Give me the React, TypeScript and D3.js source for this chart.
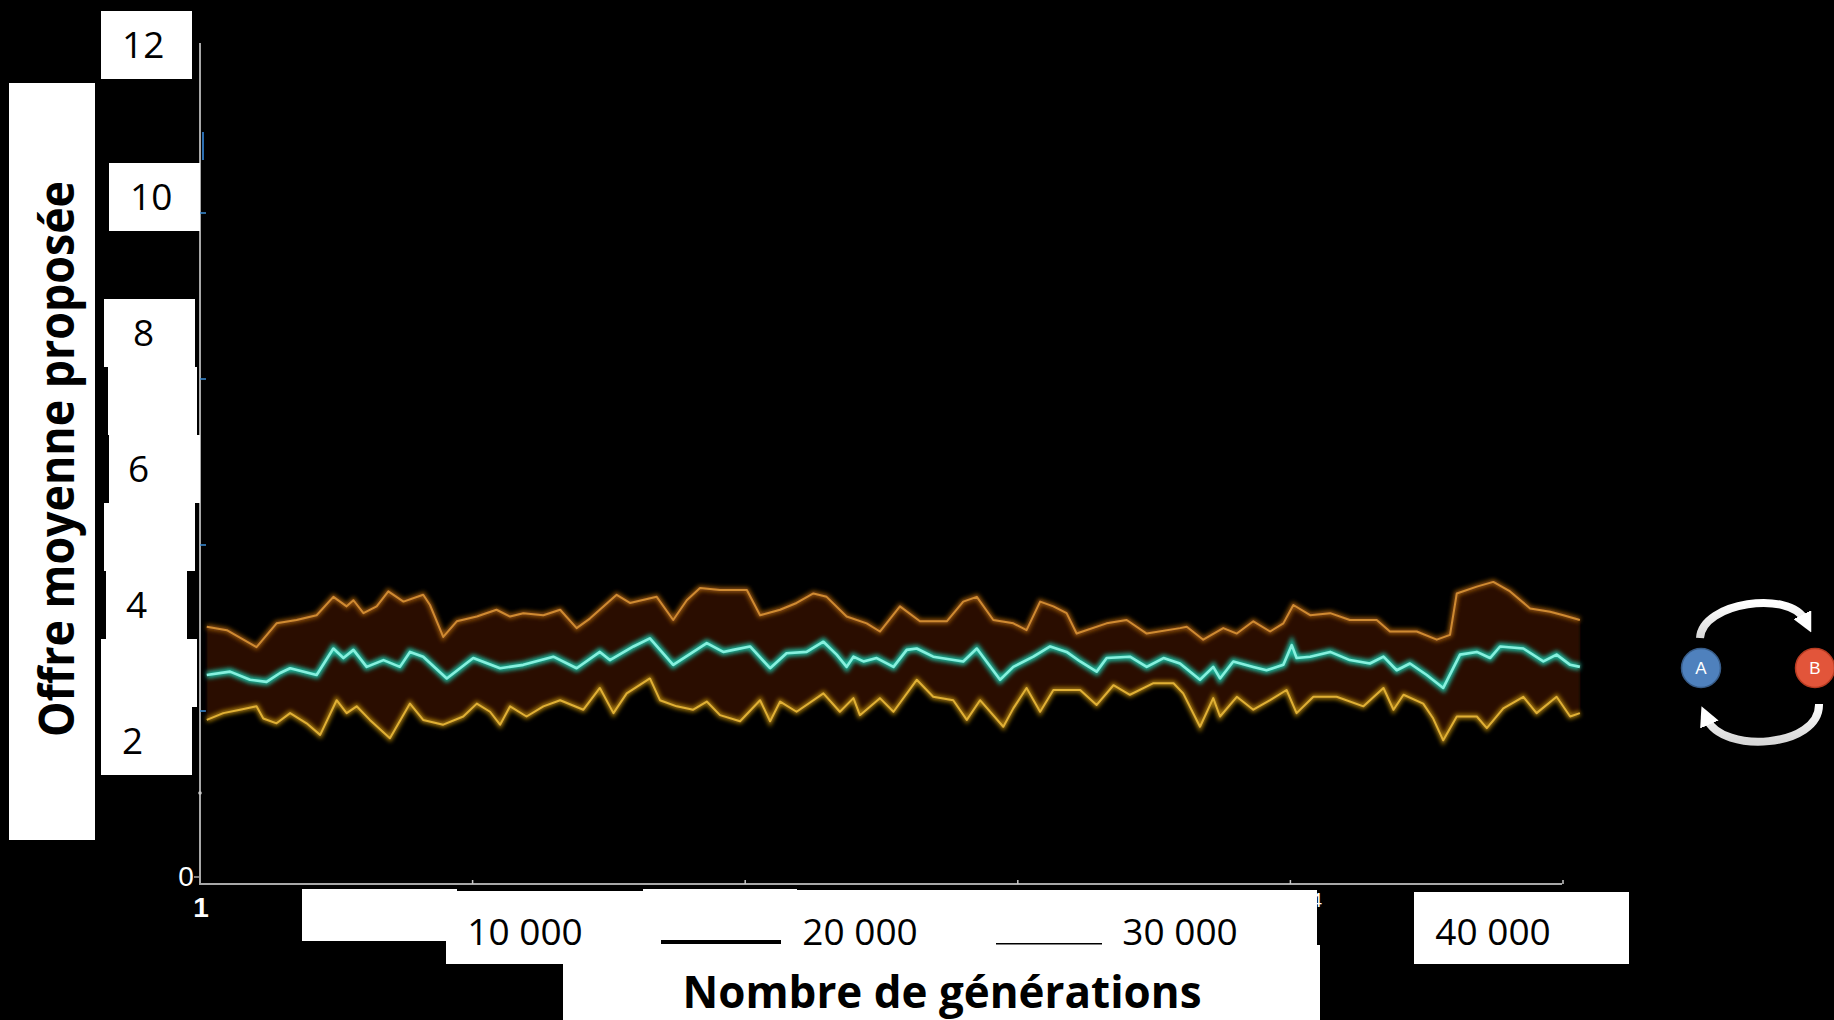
import React from "react";
import * as d3 from "d3";

// ---------- data ----------
const upperGens = [210, 830, 1750, 2370, 2990, 3610, 4130, 4540, 4750, 5060, 5470, 5830, 6300, 6910, 7120, 7530, 7950, 8570, 9180, 9600, 10010, 10630, 11150, 11660, 12070, 12900, 13310, 14140, 14650, 15070, 15480, 16100, 16930, 17340, 17960, 18470, 18990, 19400, 20020, 20640, 21050, 21670, 22290, 23120, 23630, 24050, 24560, 25180, 25590, 26010, 26420, 26830, 27140, 28070, 28690, 29310, 30340, 30550, 31060, 31680, 32100, 32610, 33130, 33540, 33850, 34370, 34990, 35600, 36430, 36840, 37670, 38290, 38700, 38910, 39530, 40040, 40560, 41180, 41800, 42210, 42720];
const upperValues = [3.68, 3.63, 3.38, 3.73, 3.78, 3.85, 4.12, 3.98, 4.07, 3.88, 3.98, 4.2, 4.05, 4.15, 4.0, 3.53, 3.76, 3.83, 3.93, 3.83, 3.88, 3.85, 3.93, 3.66, 3.8, 4.15, 4.03, 4.12, 3.78, 4.07, 4.25, 4.22, 4.22, 3.85, 3.93, 4.03, 4.17, 4.12, 3.83, 3.73, 3.61, 3.98, 3.76, 3.76, 4.05, 4.12, 3.78, 3.73, 3.63, 4.05, 3.98, 3.88, 3.58, 3.73, 3.78, 3.58, 3.66, 3.68, 3.49, 3.66, 3.58, 3.76, 3.61, 3.73, 4.0, 3.85, 3.88, 3.78, 3.78, 3.61, 3.61, 3.49, 3.56, 4.17, 4.27, 4.34, 4.2, 3.95, 3.9, 3.85, 3.78];

const meanGens = [210, 930, 1550, 2060, 2480, 2790, 3610, 4130, 4440, 4750, 5160, 5680, 6190, 6500, 6910, 7640, 8460, 9290, 10010, 10940, 11660, 12380, 12690, 13420, 13930, 14650, 15690, 16200, 16510, 17030, 17650, 18160, 18780, 19300, 19710, 20020, 20230, 20540, 20950, 21470, 21880, 22190, 22700, 23630, 24050, 24770, 25180, 25800, 26320, 26830, 27250, 27760, 28070, 28790, 29310, 29830, 30340, 30960, 31370, 31580, 31990, 32610, 33020, 33540, 33800, 33950, 34370, 34990, 35600, 36220, 36640, 37050, 37460, 37980, 38490, 39010, 39530, 39940, 40250, 40970, 41590, 42000, 42420, 42720];
const meanValues = [2.97, 3.02, 2.9, 2.87, 3.0, 3.07, 2.97, 3.36, 3.22, 3.34, 3.09, 3.19, 3.09, 3.31, 3.24, 2.92, 3.22, 3.07, 3.12, 3.24, 3.07, 3.31, 3.19, 3.39, 3.51, 3.12, 3.44, 3.31, 3.34, 3.39, 3.07, 3.29, 3.31, 3.46, 3.27, 3.09, 3.24, 3.17, 3.22, 3.09, 3.34, 3.36, 3.24, 3.17, 3.36, 2.9, 3.09, 3.24, 3.39, 3.31, 3.17, 3.02, 3.22, 3.24, 3.09, 3.22, 3.14, 2.9, 3.09, 2.92, 3.17, 3.09, 3.04, 3.12, 3.41, 3.22, 3.24, 3.31, 3.19, 3.14, 3.24, 3.04, 3.14, 2.97, 2.78, 3.27, 3.31, 3.22, 3.39, 3.36, 3.17, 3.27, 3.12, 3.09];

const lowerGens = [210, 720, 1240, 1750, 1960, 2370, 2790, 3300, 3720, 4230, 4540, 4850, 5260, 5880, 6500, 6910, 7530, 8150, 8570, 8980, 9290, 9600, 10110, 10630, 11150, 11870, 12380, 12800, 13210, 13930, 14240, 14760, 15270, 15690, 16100, 16720, 17340, 17650, 17960, 18470, 19300, 19810, 20230, 20430, 21050, 21470, 22190, 22700, 23320, 23740, 24150, 24870, 25180, 25590, 26010, 26420, 27250, 27760, 28280, 28790, 29520, 30140, 30440, 30960, 31370, 31580, 32100, 32610, 33130, 33640, 33950, 34470, 35190, 36020, 36640, 36950, 37260, 37870, 38180, 38490, 38910, 39530, 39840, 40350, 40970, 41380, 42000, 42420, 42720];
const lowerValues = [2.31, 2.41, 2.46, 2.51, 2.33, 2.26, 2.41, 2.26, 2.09, 2.6, 2.41, 2.51, 2.31, 2.04, 2.55, 2.31, 2.24, 2.36, 2.55, 2.43, 2.24, 2.51, 2.36, 2.51, 2.6, 2.46, 2.78, 2.41, 2.7, 2.92, 2.6, 2.51, 2.46, 2.58, 2.38, 2.29, 2.6, 2.29, 2.58, 2.43, 2.7, 2.43, 2.63, 2.38, 2.63, 2.43, 2.9, 2.65, 2.6, 2.31, 2.6, 2.21, 2.48, 2.78, 2.43, 2.75, 2.75, 2.53, 2.82, 2.68, 2.85, 2.85, 2.7, 2.21, 2.63, 2.36, 2.65, 2.46, 2.6, 2.75, 2.41, 2.65, 2.65, 2.51, 2.78, 2.46, 2.68, 2.55, 2.33, 2.01, 2.36, 2.36, 2.19, 2.48, 2.65, 2.41, 2.65, 2.36, 2.41];

const yTickValues = [12, 10, 8, 6, 4, 2];
const yTickLabels = ["12", "10", "8", "6", "4", "2"];
const yBlankValues = [7, 5, 3];
const xTickValues = [10000, 20000, 30000, 40000];
const xTickLabels = ["10 000", "20 000", "30 000", "40 000"];
const origYTicks = [1, 2, 3, 4];
const origXTicks = [1, 2, 3, 4, 5];
const yTitle = "Offre moyenne proposée";
const xTitle = "Nombre de générations";
const nodeLabels = ["A", "B"];

// ---------- layout / styling ----------
const W = 1834;
const H = 1020;
const FONT = "'Open Sans', 'Noto Sans', sans-serif";
const yBoxLayout: Record<number, { l: number; r: number; dy: number; tx: number }> = {
  12: { l: 101, r: 192, dy: -16, tx: 122 },
  10: { l: 109, r: 200, dy: 0, tx: 130 },
  8: { l: 104, r: 195, dy: 0, tx: 133 },
  7: { l: 108, r: 197, dy: 0, tx: 0 },
  6: { l: 109, r: 200, dy: 0, tx: 128 },
  5: { l: 104, r: 195, dy: 0, tx: 0 },
  4: { l: 106, r: 187, dy: 0, tx: 126 },
  3: { l: 101, r: 197, dy: 0, tx: 0 },
  2: { l: 101, r: 192, dy: 0, tx: 122 },
};
const xLabelDx = [2, 14, 11, 1];
const xCoverRects = [
  [302, 889, 155, 52],
  [446, 891, 360, 73],
  [643, 889, 154, 10],
  [797, 890, 520, 55],
  [563, 945, 757, 75],
  [1414, 892, 215, 72],
];

export default function App() {
  const x = d3.scaleLinear().domain([0, 40000]).range([200, 1492]);
  const y = d3.scaleLinear().domain([0, 12]).range([877, 61]);
  const xOrig = d3.scaleLinear().domain([0, 5]).range([200, 1563]);
  const yOrig = d3.scaleLinear().domain([0, 5]).range([877, 47]);

  const zip = (g: number[], v: number[]) => g.map((d, i) => [d, v[i]] as [number, number]);
  const upper = zip(upperGens, upperValues);
  const mean = zip(meanGens, meanValues);
  const lower = zip(lowerGens, lowerValues);

  const line = d3
    .line<[number, number]>()
    .x((d) => x(d[0]))
    .y((d) => y(d[1]));
  const bandPath = line([...upper, ...lower.slice().reverse()]) + "Z";

  const allBoxes = [...yTickValues, ...yBlankValues];

  return (
    <svg
      width={W}
      height={H}
      viewBox={`0 0 ${W} ${H}`}
      style={{ position: "fixed", left: 0, top: 0, display: "block" }}
    >
      <defs>
        <filter id="glow" x="-5%" y="-50%" width="110%" height="200%">
          <feGaussianBlur stdDeviation="2" />
        </filter>
        <filter id="soft" x="-5%" y="-20%" width="110%" height="140%">
          <feGaussianBlur stdDeviation="0.9" />
        </filter>
        <filter id="core" x="-5%" y="-50%" width="110%" height="200%">
          <feGaussianBlur stdDeviation="0.6" />
        </filter>
        <linearGradient id="arrowGrad" x1="0" y1="0" x2="0" y2="1">
          <stop offset="0" stopColor="#ffffff" />
          <stop offset="1" stopColor="#d8d8d8" />
        </linearGradient>
        <marker id="head" viewBox="0 0 10 10" refX="3" refY="5" markerWidth="20" markerHeight="20" markerUnits="userSpaceOnUse" orient="auto">
          <path d="M0,0 L10,5 L0,10 z" fill="#ffffff" />
        </marker>
      </defs>
      <rect x={0} y={0} width={W} height={H} fill="#000000" />

      {/* axes */}
      <line x1={200} x2={200} y1={43} y2={885} stroke="#a8a8a8" strokeWidth={2} />
      <line x1={199} x2={1562} y1={884} y2={884} stroke="#a8a8a8" strokeWidth={2} />
      {origYTicks.map((t) => (
        <line key={"oy" + t} x1={200} x2={206} y1={yOrig(t)} y2={yOrig(t)} stroke="#3d8fd8" strokeWidth={1.5} />
      ))}
      <line x1={194} x2={200} y1={y(0)} y2={y(0)} stroke="#a8a8a8" strokeWidth={1.5} />
      <circle cx={200} cy={793} r={1.8} fill="#c8c8c8" />
      {origXTicks.map((t) => (
        <line key={"ox" + t} x1={xOrig(t)} x2={xOrig(t)} y1={884} y2={880} stroke="#c8c8c8" strokeWidth={1.5} />
      ))}
      <line x1={203} x2={203} y1={132} y2={160} stroke="#2b6db0" strokeWidth={2} />
      <text x={186} y={886} fill="#ffffff" fontFamily="'Liberation Sans', Arial, sans-serif" fontSize={28} textAnchor="middle">0</text>
      <text x={201} y={917} fill="#ffffff" fontFamily="'Liberation Sans', Arial, sans-serif" fontSize={28} fontWeight={700} textAnchor="middle">1</text>
      <text x={1311} y={907} fill="#ffffff" fontFamily="'Liberation Sans', Arial, sans-serif" fontSize={20}>4</text>
      <text x={1570} y={910} fill="#ffffff" fontFamily="'Liberation Sans', Arial, sans-serif" fontSize={20}>5</text>

      {/* band */}
      <path d={bandPath} fill="#2a1000" filter="url(#soft)" />
      <path d={line(upper) || ""} fill="none" stroke="#94540e" strokeWidth={5} filter="url(#glow)" />
      <path d={line(upper) || ""} fill="none" stroke="#cf8a32" strokeWidth={2} strokeLinejoin="round" filter="url(#core)" />
      <path d={line(lower) || ""} fill="none" stroke="#a87c10" strokeWidth={5} filter="url(#glow)" />
      <path d={line(lower) || ""} fill="none" stroke="#e0b036" strokeWidth={2} strokeLinejoin="round" filter="url(#core)" />
      <path d={line(mean) || ""} fill="none" stroke="#1fb89e" strokeWidth={7} filter="url(#glow)" />
      <path d={line(mean) || ""} fill="none" stroke="#86f0de" strokeWidth={2.6} strokeLinejoin="round" filter="url(#core)" />

      {/* y label boxes */}
      {allBoxes.map((v) => {
        const b = yBoxLayout[v];
        const top = y(v + 0.5) + b.dy;
        const bot = y(v - 0.5) + b.dy;
        return <rect key={"yb" + v} x={b.l} y={top} width={b.r - b.l} height={bot - top} fill="#ffffff" />;
      })}
      {yTickValues.map((v, i) => (
        <text key={"yt" + v} x={yBoxLayout[v].tx} y={y(v) + 13 + yBoxLayout[v].dy} fontFamily={FONT} fontSize={37} fill="#000000">
          {yTickLabels[i]}
        </text>
      ))}

      {/* y title */}
      <rect x={9} y={83} width={86} height={757} fill="#ffffff" />
      <text
        transform="translate(74,459) rotate(-90)"
        textAnchor="middle"
        fontFamily={FONT}
        fontWeight={700}
        fontSize={48}
        textLength={556}
        lengthAdjust="spacingAndGlyphs"
        fill="#000000"
      >
        {yTitle}
      </text>

      {/* x label boxes */}
      {xCoverRects.map((r, i) => (
        <rect key={"xr" + i} x={r[0]} y={r[1]} width={r[2]} height={r[3]} fill="#ffffff" />
      ))}
      <rect x={661} y={940} width={120} height={4} fill="#000000" />
      <rect x={996} y={943} width={106} height={1.5} fill="#000000" />
      {xTickValues.map((t, i) => (
        <text key={"xt" + t} x={x(t) + xLabelDx[i]} y={945} textAnchor="middle" fontFamily={FONT} fontSize={37} fill="#000000">
          {xTickLabels[i]}
        </text>
      ))}
      <text x={942} y={1008} textAnchor="middle" fontFamily={FONT} fontWeight={700} fontSize={45} textLength={519} lengthAdjust="spacingAndGlyphs" fill="#000000">
        {xTitle}
      </text>

      {/* A <-> B icon */}
      <path d="M1700,638 C1702,602 1790,590 1805,620" fill="none" stroke="url(#arrowGrad)" strokeWidth={8} markerEnd="url(#head)" />
      <path d="M1819,704 C1820,748 1722,754 1707,719" fill="none" stroke="url(#arrowGrad)" strokeWidth={8} markerEnd="url(#head)" />
      <circle cx={1701} cy={668} r={19.5} fill="#4f81bd" stroke="#385d8a" strokeWidth={1.5} />
      <circle cx={1815} cy={668} r={19.5} fill="#e2553a" stroke="#b83c22" strokeWidth={1.5} />
      <text x={1701} y={674} textAnchor="middle" fontFamily="'Liberation Sans', Arial, sans-serif" fontSize={17} fill="#ffffff">{nodeLabels[0]}</text>
      <text x={1815} y={674} textAnchor="middle" fontFamily="'Liberation Sans', Arial, sans-serif" fontSize={17} fill="#ffffff">{nodeLabels[1]}</text>
    </svg>
  );
}
